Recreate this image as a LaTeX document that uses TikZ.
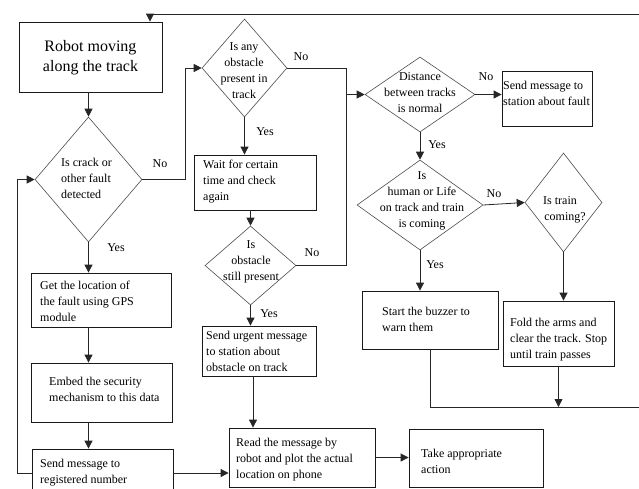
\documentclass[tikz,border=0pt]{standalone}
\usepackage{fontspec}
\setmainfont{Liberation Serif}
\usetikzlibrary{shapes.geometric,arrows.meta,calc}
\tikzset{
  line/.style={draw=black!85, line width=0.8pt},
  arr/.style={line, -{Triangle[length=8pt,width=8pt]}},
  box/.style={draw=black!90, line width=0.8pt, rectangle, inner sep=0pt},
  dia/.style={draw=black!70, line width=0.6pt, diamond, inner sep=0pt},
  txt/.style={font=\fontsize{12}{16}\selectfont, inner sep=0pt, align=left, anchor=west},
  ctxt/.style={font=\fontsize{12}{16}\selectfont, inner sep=0pt, align=center},
  lbl/.style={font=\fontsize{12}{14}\selectfont, inner sep=0pt},
}
\begin{document}
\begin{tikzpicture}[x=1pt,y=-1pt]
\useasboundingbox (0,0) rectangle (639,488);
\clip (0,0) rectangle (639,488);
% boxes
\node[box, minimum width=143pt, minimum height=70pt] (robot) at (90.5,57) {};
\node[inner sep=0pt, align=center, font=\fontsize{16}{20}\selectfont] (robott) at (90.5,58) {Robot moving\\along the track};
\node[box, minimum width=122pt, minimum height=55pt] (wait) at (255,182.5) {};
\node[txt] (waitt) at (203,182) {Wait for certain\\time and check\\again};
\node[box, minimum width=114pt, minimum height=50pt] (urgent) at (259,351) {};
\node[txt] (urgentt) at (206,351) {Send urgent message\\to station about\\obstacle on track};
\node[box, minimum width=146pt, minimum height=59pt] (read) at (302,457.5) {};
\node[txt] (readt) at (236,460) {Read the message by\\robot and plot the actual\\location on phone};
\node[box, minimum width=134pt, minimum height=58pt] (take) at (476,458) {};
\node[txt] (taket) at (421,461) {Take appropriate\\action};
\node[box, minimum width=140pt, minimum height=54pt] (get) at (101,300) {};
\node[txt] (gett) at (40,301) {Get the location of\\the fault using GPS\\module};
\node[box, minimum width=141pt, minimum height=59pt] (embed) at (101.5,392.5) {};
\node[txt] (embedt) at (49,389) {Embed the security\\mechanism to this data};
\node[box, minimum width=141pt, minimum height=48pt] (send) at (102.5,473) {};
\node[txt] (sendt) at (40,473) {Send message to\\registered number};
\node[box, minimum width=90pt, minimum height=55pt] (msg) at (547,98.5) {};
\node[txt] (msgt) at (503,93) {Send message to\\station about fault};
\node[box, minimum width=136pt, minimum height=58pt] (start) at (430,320) {};
\node[txt] (startt) at (382,319) {Start the buzzer to\\warn them};
\node[box, minimum width=111pt, minimum height=65pt] (fold) at (558.5,333.5) {};
\node[txt] (foldt) at (510,340) {Fold the arms and\\clear the track. Stop\\until train passes};
% diamonds
\node[dia, minimum width=107pt, minimum height=125pt] (d1) at (88.5,179.5) {};
\node[txt] (d1t) at (61,178) {Is crack or\\other fault\\detected};
\node[dia, minimum width=85pt, minimum height=98pt] (d2) at (244.5,68) {};
\node[ctxt] (d2t) at (244,71) {Is any\\obstacle\\present in\\track};
\node[dia, minimum width=110pt, minimum height=75pt] (d3) at (420,94.5) {};
\node[ctxt] (d3t) at (420,93) {Distance\\between tracks\\is normal};
\node[dia, minimum width=91pt, minimum height=79pt] (d4) at (250.5,265.5) {};
\node[ctxt] (d4t) at (251,262) {Is\\obstacle\\still present};
\node[dia, minimum width=126pt, minimum height=90pt] (d5) at (420,205) {};
\node[ctxt] (d5t) at (422,201) {Is\\human or Life\\on track and train\\is coming};
\node[dia, minimum width=77pt, minimum height=99pt] (d6) at (563.5,202.5) {};
\node[ctxt] (d6t) at (560,210) {Is train\\\hspace*{10pt}coming?};
% helper coordinates
\coordinate (lx) at (17,0);
\coordinate (ax) at (185,0);
\coordinate (ux) at (253,0);
\coordinate (bx) at (346,0);
\coordinate (jy) at (0,407);
\coordinate (rx) at (660,0);
\coordinate (ty) at (0,14);
\coordinate (tx) at (150,0);
% connectors
\draw[arr] (robot.south -| d1.north) -- (d1.north);
\draw[arr] (d1.south) -- (d1.south |- get.north);
\draw[arr] (get.south -| d1.south) -- (d1.south |- embed.north);
\draw[arr] (embed.south -| d1.south) -- (d1.south |- send.north);
\draw[arr] (send.west) -- (send.west -| lx) |- (d1.west);
\draw[arr] (send.east) -- (send.east -| read.west);
\draw[arr] (d1.east) -- (d1.east -| ax) |- (d2.west);
\draw[arr] (d2.south) -- (d2.south |- wait.north);
\draw[arr] (wait.south -| d4.north) -- (d4.north);
\draw[arr] (d4.south) -- (d4.south |- urgent.north);
\draw[arr] (urgent.south -| ux) -- (read.north -| ux);
\draw[arr] (read.east) -- (read.east -| take.west);
\draw[line] (d2.east) -- (d2.east -| bx) -- (d4.east -| bx) -- (d4.east);
\draw[arr] (d3.west -| bx) -- (d3.west);
\draw[arr] (d3.east) -- (d3.east -| msg.west);
\draw[arr] (d3.south) -- (d5.north);
\draw[arr] (d5.east) -- (d6.west);
\draw[arr] (d5.south) -- (d5.south |- start.north);
\draw[arr] (d6.south) -- (d6.south |- fold.north);
\draw[arr] (fold.south) -- (fold.south |- jy);
\draw[arr] (start.south) -- (start.south |- jy) -- (rx |- jy) -- (rx |- ty) -- (tx |- ty) -- (robot.north -| tx);
% labels
\node[lbl] (n1) at (160,164) {No};
\node[lbl] (y1) at (116,248) {Yes};
\node[lbl] (n2) at (301,57) {No};
\node[lbl] (y2) at (265,132) {Yes};
\node[lbl] (n4) at (312,253) {No};
\node[lbl] (y4) at (269,314) {Yes};
\node[lbl] (n3) at (486,77) {No};
\node[lbl] (y3) at (437,145) {Yes};
\node[lbl] (n5) at (494,194) {No};
\node[lbl] (y5) at (435,265) {Yes};
\end{tikzpicture}
\end{document}
